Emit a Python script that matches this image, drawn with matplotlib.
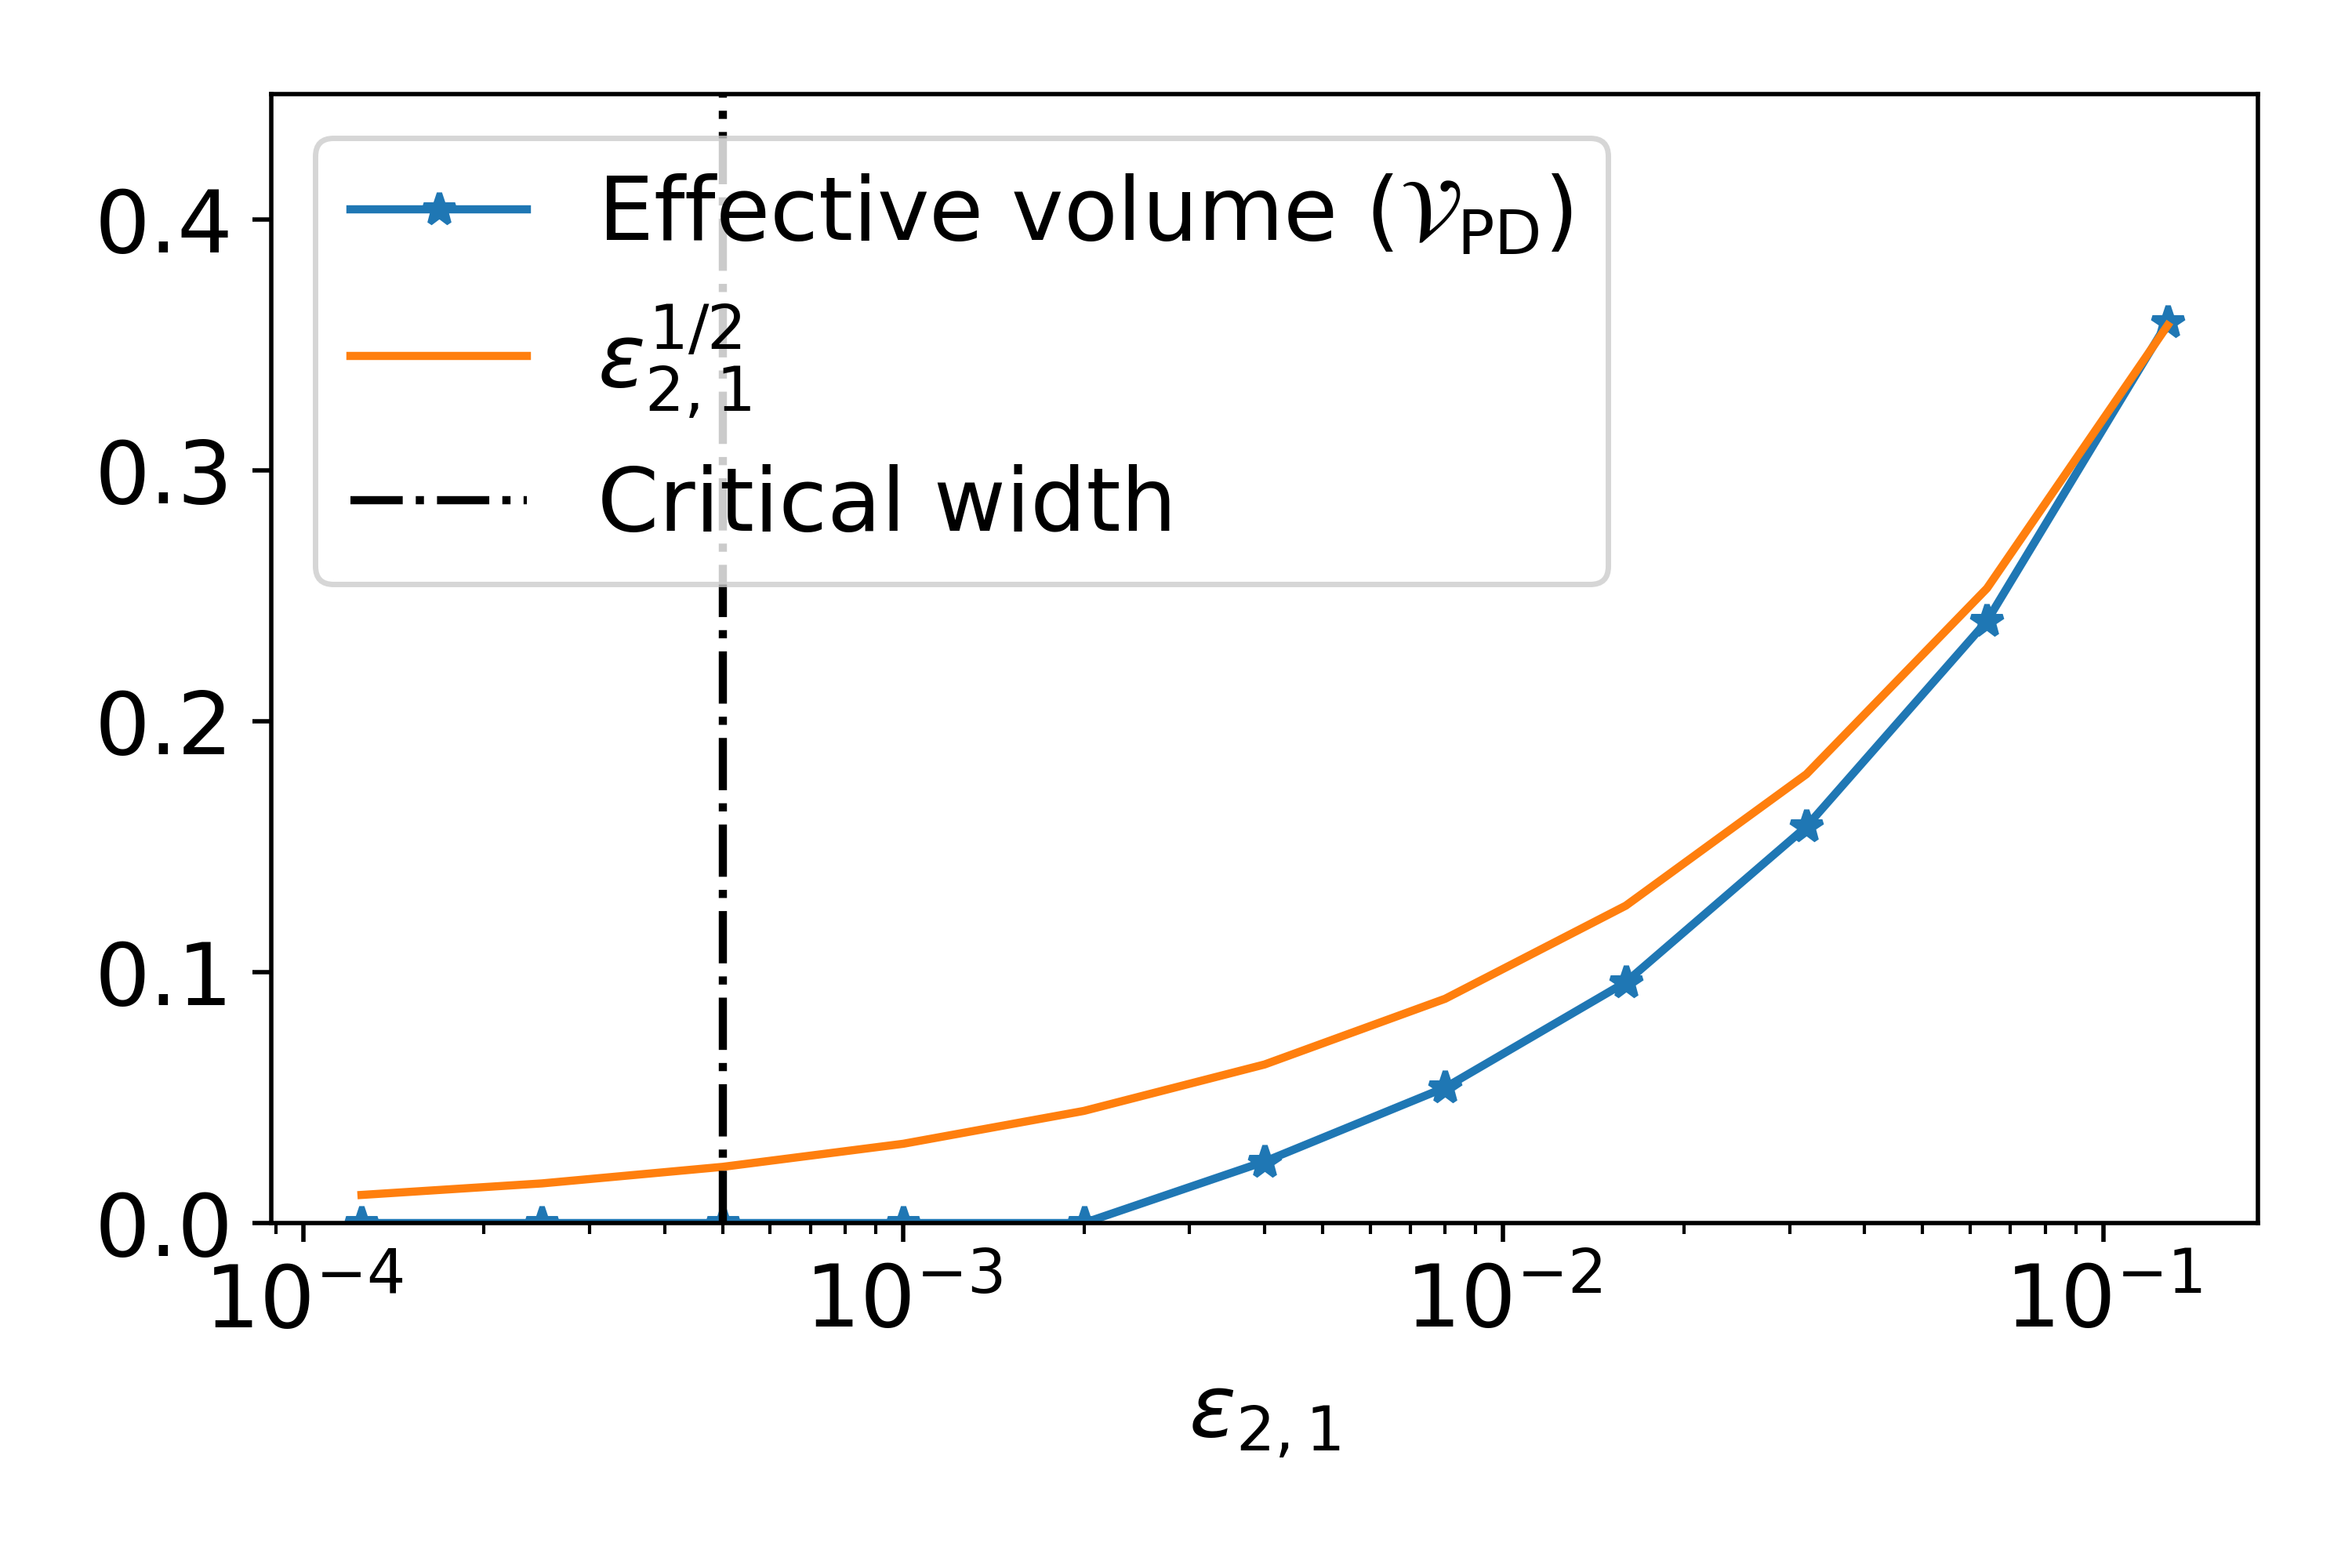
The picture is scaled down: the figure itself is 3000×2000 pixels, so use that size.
import matplotlib
matplotlib.use("Agg")
import matplotlib.pyplot as plt

eps = [1.25e-4, 2.5e-4, 5e-4, 1e-3, 2e-3, 4e-3, 8e-3, 0.016, 0.032, 0.064, 0.128]
eff_volume = [0.0, 0.0, 0.0, 0.0, 0.0, 0.0245, 0.054, 0.096, 0.158, 0.240, 0.359]
eps_sqrt = [0.0112, 0.0158, 0.0224, 0.0316, 0.0447, 0.0632, 0.0894, 0.1265, 0.1789, 0.2530, 0.3578]
critical_width = 5e-4

fig, ax = plt.subplots(figsize=(6, 4), dpi=500)
fig.subplots_adjust(left=0.1153, right=0.96, top=0.94, bottom=0.22)

ax.plot(eps, eff_volume, '-*', color='C0', label=r"Effective volume ($\mathcal{V}_{\rm PD}$)")
ax.plot(eps, eps_sqrt, color='C1', label=r"$\varepsilon_{2,1}^{1/2}$")
ax.axvline(critical_width, color='k', linestyle='-.', label="Critical width")

ax.set_xscale('log')
ax.set_ylim([0, 0.45])
ax.set_yticks([0, 0.1, 0.2, 0.3, 0.4])
ax.tick_params(labelsize=16)
ax.set_xlabel(r"$\varepsilon_{2,1}$", fontsize=16, labelpad=5.5)
ax.legend(loc='upper left', fontsize=16.2)

plt.savefig("out.png", dpi=500)
